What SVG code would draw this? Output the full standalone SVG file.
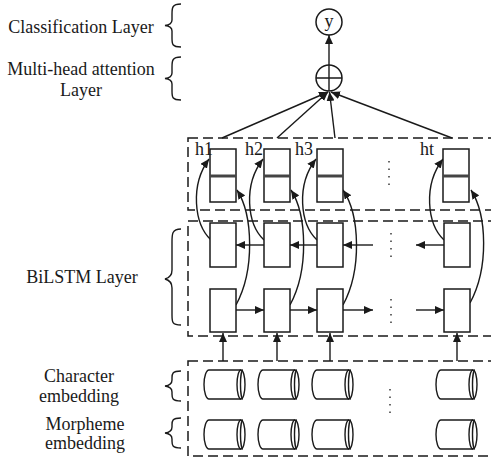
<svg xmlns="http://www.w3.org/2000/svg" width="491" height="457" viewBox="0 0 491 457">
<style>
.t{font-family:"Liberation Serif","Times New Roman",serif;font-size:18px;fill:#1a1a1a}
.ln{stroke:#1a1a1a;stroke-width:1.4;fill:none}
.box{stroke:#1a1a1a;stroke-width:1.5;fill:#fff}
.dash{stroke:#1a1a1a;stroke-width:1.5;fill:none;stroke-dasharray:10 5}
.dots{stroke:#444;stroke-width:1.6;stroke-dasharray:1.5 6;fill:none}
.br{stroke:#1a1a1a;stroke-width:1.4;fill:none}
</style>
<defs>
<marker id="ah" markerUnits="userSpaceOnUse" markerWidth="10" markerHeight="8" refX="9" refY="4" orient="auto">
<path d="M0,0 L9,4 L0,8 z" fill="#1a1a1a"/>
</marker>
<g id="cyl">
<path d="M5,0 H37 M5,29 H37 M5,0 A5 14.5 0 0 0 5 29" class="ln"/>
<ellipse cx="37" cy="14.5" rx="4" ry="14.5" class="ln"/>
<path d="M39,0 A2.5 14.5 0 0 0 39 29" class="ln"/>
</g>
</defs>

<g id="labels">
<text class="t" x="81" y="33" text-anchor="middle">Classification Layer</text>
<text class="t" x="81" y="75" text-anchor="middle">Multi-head attention</text>
<text class="t" x="81" y="96" text-anchor="middle">Layer</text>
<text class="t" x="82" y="283" text-anchor="middle">BiLSTM Layer</text>
<text class="t" x="79" y="382" text-anchor="middle">Character</text>
<text class="t" x="79" y="402" text-anchor="middle">embedding</text>
<text class="t" x="85" y="430" text-anchor="middle">Morpheme</text>
<text class="t" x="85" y="449" text-anchor="middle">embedding</text>
</g>

<g id="braces">
<path class="br" d="M181,4 C172,4 172,8 172,14 V20 C172,24 169,25 165,25.5 C169,26 172,27 172,31 V38 C172,44 172,47 181,47"/>
<path class="br" d="M181,57 C172,57 172,61 172,67 V73 C172,77 169,78 165,78.5 C169,79 172,80 172,84 V91 C172,97 172,100 181,100"/>
<path class="br" d="M181,229 C172,229 172,234 172,242 V270 C172,276 169,278 165,279 C169,280 172,282 172,288 V315 C172,322 172,325 181,325"/>
<path class="br" d="M181,371 C172,371 172,374 172,378 V380 C172,384 169,385.5 165,386 C169,386.5 172,388 172,392 V394 C172,398 172,401 181,401"/>
<path class="br" d="M181,418 C172,418 172,421 172,425 V427 C172,431 169,432.5 165,433 C169,433.5 172,435 172,439 V441 C172,445 172,448 181,448"/>
</g>

<g id="layers">
<rect class="dash" x="188" y="138" width="320" height="72"/>
<rect class="dash" x="188" y="221" width="320" height="115"/>
<rect class="dash" x="188" y="361" width="320" height="95"/>
</g>

<g id="connectors">
<line class="ln" x1="329" y1="65" x2="329" y2="35" marker-end="url(#ah)"/>
<line class="ln" x1="222" y1="138" x2="328" y2="92" marker-end="url(#ah)"/>
<line class="ln" x1="277" y1="138" x2="328" y2="92" marker-end="url(#ah)"/>
<line class="ln" x1="335" y1="138" x2="329.5" y2="92" marker-end="url(#ah)"/>
<line class="ln" x1="452" y1="138" x2="331" y2="92" marker-end="url(#ah)"/>
<!-- backward arrows -->
<line class="ln" x1="264" y1="245" x2="236" y2="245" marker-end="url(#ah)"/>
<line class="ln" x1="317" y1="245" x2="290" y2="245" marker-end="url(#ah)"/>
<line class="ln" x1="373" y1="245" x2="343" y2="245" marker-end="url(#ah)"/>
<line class="ln" x1="444" y1="245" x2="416" y2="245" marker-end="url(#ah)"/>
<!-- forward arrows -->
<line class="ln" x1="236" y1="310" x2="264" y2="310" marker-end="url(#ah)"/>
<line class="ln" x1="290" y1="310" x2="317" y2="310" marker-end="url(#ah)"/>
<line class="ln" x1="343" y1="310" x2="373" y2="310" marker-end="url(#ah)"/>
<line class="ln" x1="416" y1="310" x2="444" y2="310" marker-end="url(#ah)"/>
<!-- embedding to lstm -->
<line class="ln" x1="223" y1="361" x2="223" y2="333" marker-end="url(#ah)"/>
<line class="ln" x1="277" y1="361" x2="277" y2="333" marker-end="url(#ah)"/>
<line class="ln" x1="330" y1="361" x2="330" y2="333" marker-end="url(#ah)"/>
<line class="ln" x1="457" y1="361" x2="457" y2="333" marker-end="url(#ah)"/>
<!-- curves backward to h -->
<path class="ln" d="M211,240 C194,224 190,185 209,159" marker-end="url(#ah)"/>
<path class="ln" d="M264,240 C247,224 243,185 263,159" marker-end="url(#ah)"/>
<path class="ln" d="M317,240 C300,224 296,185 316,159" marker-end="url(#ah)"/>
<path class="ln" d="M444,240 C427,224 423,185 443,159" marker-end="url(#ah)"/>
<!-- curves forward to h -->
<path class="ln" d="M236,305 C255,270 253,215 237,190" marker-end="url(#ah)"/>
<path class="ln" d="M290,305 C309,270 307,215 291,190" marker-end="url(#ah)"/>
<path class="ln" d="M343,305 C362,270 360,215 343,190" marker-end="url(#ah)"/>
<path class="ln" d="M470,303 C489,268 487,215 471,190" marker-end="url(#ah)"/>
</g>

<g id="node-y">
<circle class="box" cx="329" cy="22" r="13"/>
<text class="t" x="329" y="27" text-anchor="middle">y</text>
</g>
<g id="node-attention">
<circle class="box" cx="329" cy="78" r="13"/>
<path class="ln" d="M316,78 H342 M329,65 V91"/>
</g>

<g id="h-nodes">
<g id="h1"><rect class="box" x="210" y="149" width="26" height="53"/><line x1="210" y1="176" x2="236" y2="176" stroke="#444" stroke-width="3"/><text class="t" x="195" y="155">h1</text></g>
<g id="h2"><rect class="box" x="264" y="149" width="26" height="53"/><line x1="264" y1="176" x2="290" y2="176" stroke="#444" stroke-width="3"/><text class="t" x="245" y="155">h2</text></g>
<g id="h3"><rect class="box" x="317" y="149" width="26" height="53"/><line x1="317" y1="176" x2="343" y2="176" stroke="#444" stroke-width="3"/><text class="t" x="295" y="155">h3</text></g>
<g id="ht"><rect class="box" x="443" y="149" width="26" height="53"/><line x1="443" y1="176" x2="469" y2="176" stroke="#444" stroke-width="3"/><text class="t" x="420" y="155">ht</text></g>
<line class="dots" x1="389" y1="161" x2="389" y2="186"/>
</g>

<g id="lstm-backward">
<rect class="box" x="210" y="223" width="26" height="44"/>
<rect class="box" x="264" y="223" width="26" height="44"/>
<rect class="box" x="317" y="223" width="26" height="44"/>
<rect class="box" x="444" y="223" width="26" height="44"/>
<line class="dots" x1="391" y1="233" x2="391" y2="260"/>
</g>
<g id="lstm-forward">
<rect class="box" x="210" y="289" width="26" height="43"/>
<rect class="box" x="264" y="289" width="26" height="43"/>
<rect class="box" x="317" y="289" width="26" height="43"/>
<rect class="box" x="444" y="289" width="26" height="43"/>
<line class="dots" x1="391" y1="299" x2="391" y2="326"/>
</g>

<g id="char-embedding">
<use href="#cyl" x="204" y="370"/>
<use href="#cyl" x="258" y="370"/>
<use href="#cyl" x="312" y="370"/>
<use href="#cyl" x="436" y="370"/>
</g>
<g id="morph-embedding">
<use href="#cyl" x="204" y="420"/>
<use href="#cyl" x="258" y="420"/>
<use href="#cyl" x="312" y="420"/>
<use href="#cyl" x="436" y="420"/>
</g>
<line class="dots" x1="390" y1="389" x2="390" y2="414"/>
</svg>
